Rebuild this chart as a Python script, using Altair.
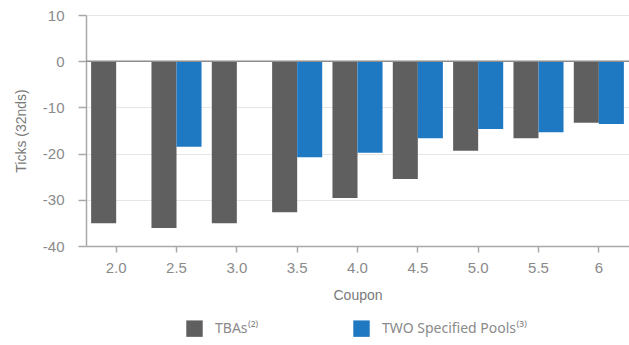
import altair as alt
import pandas as pd

# Price change in ticks (32nds) by coupon
coupons = ["2.0", "2.5", "3.0", "3.5", "4.0", "4.5", "5.0", "5.5", "6"]
tba_ticks = [-35.1, -36.1, -35.1, -32.7, -29.6, -25.5, -19.4, -16.7, -13.3]
pool_ticks = [None, -18.5, None, -20.8, -19.8, -16.7, -14.7, -15.4, -13.6]

series_names = ["TBAs⁽²⁾", "TWO Specified Pools⁽³⁾"]
series_colors = ["#5f5f5f", "#1f78c2"]

rows = []
for c, t, p in zip(coupons, tba_ticks, pool_ticks):
    rows.append({"coupon": c, "series": series_names[0], "ticks": t})
    if p is not None:
        rows.append({"coupon": c, "series": series_names[1], "ticks": p})
df = pd.DataFrame(rows)

FONT = "Liberation Sans"
GREY_TEXT = "#8a8a8a"

bars = alt.Chart(df).mark_bar().encode(
    x=alt.X(
        "coupon:N",
        sort=coupons,
        title="Coupon",
        scale=alt.Scale(paddingInner=0.17, paddingOuter=0.085),
        axis=alt.Axis(labelAngle=0, grid=False, tickSize=6, labelPadding=8,
                      labelFontSize=15, titlePadding=13),
    ),
    xOffset=alt.XOffset("series:N", sort=series_names,
                        scale=alt.Scale(paddingInner=0, paddingOuter=0)),
    y=alt.Y(
        "ticks:Q",
        title="Ticks (32nds)",
        scale=alt.Scale(domain=[-40, 10], nice=False),
        axis=alt.Axis(values=[-40, -30, -20, -10, 0, 10], tickSize=8,
                      labelExpr="'' + datum.value",
                      labelPadding=14, titlePadding=14),
    ),
    color=alt.Color(
        "series:N",
        sort=series_names,
        scale=alt.Scale(domain=series_names, range=series_colors),
        legend=alt.Legend(
            title=None,
            orient="none",
            direction="horizontal",
            legendX=100,
            legendY=305,
            symbolType="square",
            symbolSize=270,
            symbolStrokeWidth=0,
            labelFont="Noto Sans",
            labelFontSize=14,
            labelColor=GREY_TEXT,
            labelOffset=12,
            columnPadding=94,
        ),
    ),
)

zero_line = alt.Chart(pd.DataFrame({"y": [0]})).mark_rule(
    color="#8c8c8c", strokeWidth=1.5
).encode(y="y:Q")

chart = (
    alt.layer(bars, zero_line)
    .properties(
        width=543,
        height=231,
        padding={"left": 86, "top": 15, "right": 0, "bottom": 99},
        autosize=alt.AutoSizeParams(type="none"),
    )
    .configure_view(stroke=None)
    .configure_axis(
        labelFont=FONT,
        titleFont=FONT,
        labelFontSize=15,
        titleFontSize=14,
        labelColor=GREY_TEXT,
        titleColor="#7a7a7a",
        titleFontWeight="normal",
        domainColor="#a8a8a8",
        domainWidth=1.5,
        tickColor="#a8a8a8",
        tickWidth=1.5,
        gridColor="#e6e6e6",
        gridWidth=1.2,
    )
)

chart.save("out.html", embed_options={"renderer": "svg", "actions": False})
